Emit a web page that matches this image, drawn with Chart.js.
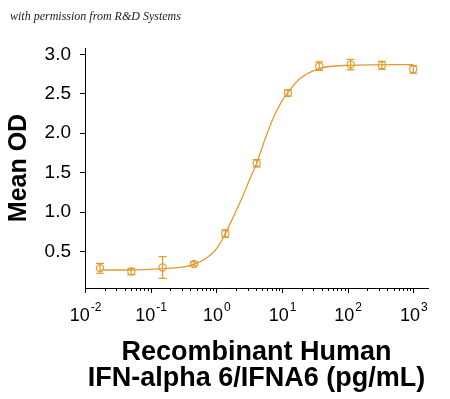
<!DOCTYPE html>
<html>
<head>
<meta charset="utf-8">
<script src="https://cdn.jsdelivr.net/npm/chart.js@4"></script>
<style>
  html, body { margin: 0; padding: 0; background: #ffffff; }
  #wrap { width: 450px; height: 399px; }
</style>
</head>
<body>
<div id="wrap"><canvas id="c" width="450" height="399"></canvas></div>
<script>
// ---- data ----
const conc = [0.0169, 0.0508, 0.152, 0.457, 1.37, 4.12, 12.3, 37.0, 111, 333, 1000];
const meanOD = [0.29, 0.25, 0.30, 0.345, 0.73, 1.62, 2.51, 2.85, 2.87, 2.86, 2.81];
const sdOD = [0.063, 0.04, 0.137, 0.025, 0.045, 0.045, 0.04, 0.053, 0.067, 0.05, 0.048];
const fitX = [0.017, 0.051, 0.155, 0.279, 0.457, 0.711, 1.01, 1.38, 1.81, 2.43, 3.24, 4.15, 5.5, 7.35, 9.86, 12.4, 18.6, 37.2, 110, 1000];
const fitY = [0.268, 0.268, 0.285, 0.30, 0.34, 0.42, 0.54, 0.73, 0.94, 1.17, 1.42, 1.63, 1.92, 2.19, 2.40, 2.52, 2.69, 2.82, 2.86, 2.87];
const xTickValues = [0.01, 0.1, 1, 10, 100, 1000];
const yTickValues = [0.5, 1.0, 1.5, 2.0, 2.5, 3.0];
const xTitle = ['Recombinant Human', 'IFN-alpha 6/IFNA6 (pg/mL)'];
const yTitle = 'Mean OD';
const watermark = 'with permission from R&D Systems';

const ORANGE = '#E39B2E';
const FONT = "'Liberation Sans', Arial, sans-serif";

const errorBars = {
  id: 'errorBars',
  afterDatasetsDraw(chart) {
    const {ctx, scales: {x, y}} = chart;
    ctx.save();
    ctx.strokeStyle = ORANGE;
    ctx.lineWidth = 1.2;
    for (let i = 0; i < conc.length; i++) {
      const px = x.getPixelForValue(conc[i]);
      const top = y.getPixelForValue(meanOD[i] + sdOD[i]);
      const bot = y.getPixelForValue(meanOD[i] - sdOD[i]);
      ctx.beginPath();
      ctx.moveTo(px, top); ctx.lineTo(px, bot);
      ctx.moveTo(px - 4, top); ctx.lineTo(px + 4, top);
      ctx.moveTo(px - 4, bot); ctx.lineTo(px + 4, bot);
      ctx.stroke();
    }
    ctx.restore();
  }
};

const xAxisDecor = {
  id: 'xAxisDecor',
  afterDraw(chart) {
    const {ctx, scales: {x}, chartArea} = chart;
    const yb = chartArea.bottom;
    ctx.save();
    ctx.strokeStyle = '#000';
    ctx.lineWidth = 1;
    // major + minor tick marks
    for (let d = -2; d <= 3; d++) {
      for (let k = 1; k <= 9; k++) {
        const v = k * Math.pow(10, d);
        if (v < x.min - 1e-12 || v > x.max) continue;
        const px = Math.round(x.getPixelForValue(v)) + 0.5;
        const len = (k === 1) ? 5 : 3;
        ctx.beginPath();
        ctx.moveTo(px, yb);
        ctx.lineTo(px, yb + len);
        ctx.stroke();
      }
    }
    // tick labels 10^n
    ctx.fillStyle = '#000';
    ctx.textBaseline = 'alphabetic';
    ctx.textAlign = 'left';
    const base = '18px ' + FONT;
    const sup = '12px ' + FONT;
    xTickValues.forEach(v => {
      const exp = String(Math.round(Math.log10(v)));
      ctx.font = base;
      const w1 = ctx.measureText('10').width;
      ctx.font = sup;
      const w2 = ctx.measureText(exp).width;
      const px = x.getPixelForValue(v);
      const x0 = px - (w1 + w2) / 2;
      ctx.font = base;
      ctx.fillText('10', x0, 321);
      ctx.font = sup;
      ctx.fillText(exp, x0 + w1 + 1, 311);
    });
    // watermark
    ctx.font = "italic 12px 'Liberation Serif', serif";
    ctx.fillStyle = '#222';
    ctx.fillText(watermark, 10, 20);
    ctx.restore();
  }
};

new Chart(document.getElementById('c'), {
  type: 'scatter',
  data: {
    datasets: [
      {
        type: 'line',
        data: fitX.map((v, i) => ({x: v, y: fitY[i]})),
        borderColor: ORANGE,
        borderWidth: 1.3,
        pointRadius: 0,
        fill: false,
        cubicInterpolationMode: 'monotone',
        order: 2
      },
      {
        type: 'scatter',
        data: conc.map((v, i) => ({x: v, y: meanOD[i]})),
        pointStyle: 'circle',
        pointRadius: 3.6,
        pointBorderWidth: 1.2,
        borderColor: ORANGE,
        backgroundColor: 'rgba(255,255,255,0)',
        order: 1
      }
    ]
  },
  options: {
    responsive: false,
    animation: false,
    devicePixelRatio: 1,
    layout: { padding: { top: 48, right: 22, left: 0, bottom: 0 } },
    plugins: { legend: { display: false }, tooltip: { enabled: false } },
    scales: {
      x: {
        type: 'logarithmic',
        min: 0.01,
        max: 1675,
        grid: { display: false },
        border: { display: true, color: '#000', width: 1 },
        ticks: { display: false },
        title: {
          display: true,
          text: xTitle,
          color: '#000',
          font: { family: FONT, size: 27, weight: 'bold', lineHeight: '26px' },
          padding: { top: 0, bottom: 7 }
        },
        afterFit(scale) { scale.height = 111; }
      },
      y: {
        type: 'linear',
        min: 0.04,
        max: 3.08,
        afterBuildTicks(scale) { scale.ticks = yTickValues.map(v => ({value: v})); },
        grid: { drawOnChartArea: false, drawTicks: true, tickLength: 5, color: '#000' },
        border: { display: true, color: '#000', width: 1 },
        ticks: {
          color: '#000',
          padding: 9,
          font: { family: FONT, size: 19 },
          callback: v => Number(v).toFixed(1)
        },
        title: {
          display: true,
          text: yTitle,
          color: '#000',
          font: { family: FONT, size: 25, weight: 'bold', lineHeight: '25px' },
          padding: { top: 7, bottom: 0 }
        },
        afterFit(scale) { scale.width = 85; }
      }
    }
  },
  plugins: [errorBars, xAxisDecor]
});
</script>
</body>
</html>
